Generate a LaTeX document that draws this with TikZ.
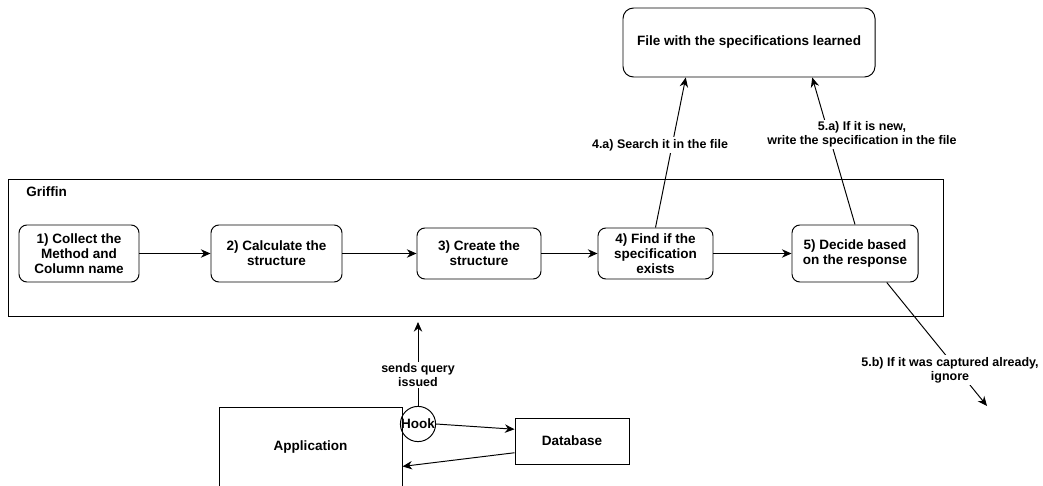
\documentclass[tikz,border=0pt]{standalone}
\usepackage{fontspec}
\setmainfont{Liberation Sans}
\usepackage{tikz}
\usetikzlibrary{positioning,arrows.meta,calc}

\begin{document}
\begin{tikzpicture}[x=0.02cm,y=-0.02cm,line width=0.55pt,
  stepbox/.style={draw,rounded corners=4.5pt,align=center,inner sep=0pt,font=\fontsize{7.7}{8.5}\selectfont\bfseries},
  plainbox/.style={draw,align=center,inner sep=0pt,font=\fontsize{7.7}{8.5}\selectfont\bfseries},
  lbl/.style={fill=white,inner sep=1pt,align=center,font=\fontsize{7.1}{7.9}\selectfont\bfseries},
  flow/.style={-{Stealth[length=5.5pt,width=4.8pt]}}]
  % frame (1 unit = 1px of the reference)
  \clip (0,0) rectangle (1043,486);
  % Griffin container
  \node[plainbox,minimum width=935*0.02cm,minimum height=137*0.02cm] (griffin) at (475.5,247.5) {};
  \node[anchor=west,font=\fontsize{7.7}{8.5}\selectfont\bfseries] (gname) at (20,192) {Griffin};
  % the five steps: index/center x/width/height/text
  \foreach \i/\cx/\w/\h/\txt in {1/79/120/57/{1) Collect the\\Method and\\Column name},
      2/276.5/131/57/{2) Calculate the\\structure},
      3/479/124/51/{3) Create the\\structure},
      4/655.5/115/51/{4) Find if the\\specification\\exists},
      5/855/126/57/{5) Decide based\\on the response}}{
    \node[stepbox,minimum width=\w*0.02cm,minimum height=\h*0.02cm] (s\i) at (\cx,253.5) {\txt};
  }
  \foreach \a/\b in {1/2,2/3,3/4,4/5}
    \draw[flow] (s\a) -- (s\b);
  % learned specifications
  \node[stepbox,rounded corners=6pt,minimum width=252*0.02cm,minimum height=69*0.02cm] (spec) at (749,42.5) {File with the specifications learned};
  % application side
  \node[plainbox,minimum width=183*0.02cm,minimum height=80*0.02cm] (app) at (310.5,447) {Application};
  \node[plainbox,minimum width=114*0.02cm,minimum height=46*0.02cm] (db) at (572,441) {Database};
  \node[draw,circle,inner sep=0pt,minimum size=34*0.02cm,font=\fontsize{7.7}{8.5}\selectfont\bfseries] (hook) at (418,424) {Hook};
  \coordinate (qtop) at (418,322);
  \coordinate (ign) at (987,406);
  % connectors
  \draw[flow] (s4.north) -- ($(spec.south west)!0.25!(spec.south east)$);
  \draw[flow] (s5.north) -- ($(spec.south west)!0.75!(spec.south east)$);
  \draw[flow] ($(s5.south west)!0.75!(s5.south east)$) -- (ign);
  \draw[flow] (hook.north) -- (qtop);
  \draw[flow] (hook.east) -- ($(db.north west)!0.25!(db.south west)$);
  \draw[flow] ($(db.north west)!0.75!(db.south west)$) -- ($(app.north east)!0.74!(app.south east)$);
  % edge labels
  \node[lbl] (l4a) at (660,145) {4.a) Search it in the file};
  \node[lbl] (l5a) at (862,134.5) {5.a) If it is new,\\write the specification in the file};
  \node[lbl] (l5b) at (950,370) {5.b) If it was captured already,\\ignore};
  \node[lbl] (lq) at (418,375) {sends query\\issued};
\end{tikzpicture}
\end{document}
